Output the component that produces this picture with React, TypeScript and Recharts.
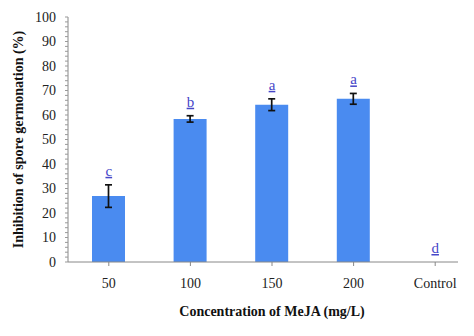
import React from "react";
import { XAxis, YAxis, Bar, ErrorBar, Line, LabelList, Label, ComposedChart } from "recharts";

const categories = ["50", "100", "150", "200", "Control"];
const inhibition = [26.9, 58.4, 64.2, 66.6, 0];
const errors = [4.6, 1.3, 2.4, 2.2, 0];
const letters = ["c", "b", "a", "a", "d"];
const yTicks = [0, 2, 4, 6, 8, 10, 12, 14, 16, 18, 20, 22, 24, 26, 28, 30, 32, 34, 36, 38, 40, 42, 44, 46, 48, 50, 52, 54, 56, 58, 60, 62, 64, 66, 68, 70, 72, 74, 76, 78, 80, 82, 84, 86, 88, 90, 92, 94, 96, 98, 100];

const data = categories.map((c, i) => ({
  name: c,
  value: inhibition[i],
  err: errors[i],
  top: inhibition[i] + errors[i],
  letter: letters[i],
}));

const serif = "'Liberation Serif', 'Times New Roman', serif";

const LetterLabel = (props: any) => {
  const { x, y, index } = props;
  return (
    <text
      x={x}
      y={y - 9}
      textAnchor="middle"
      fontFamily={serif}
      fontSize={15}
      fill="#4646c8"
      style={{ textDecoration: "underline" }}
    >
      {letters[index]}
    </text>
  );
};

const YTitle = (props: any) => {
  const vb = props.viewBox || {};
  const cx = vb.x + 10;
  const cy = vb.y + vb.height / 2;
  return (
    <text
      x={cx}
      y={cy}
      transform={`rotate(-90, ${cx}, ${cy})`}
      textAnchor="middle"
      dominantBaseline="central"
      fontFamily={serif}
      fontWeight="bold"
      fontSize={14}
      fill="#111"
    >
      Inhibition of spore germonation (%)
    </text>
  );
};

export default function App() {
  return (
    <div style={{ width: 450, height: 328, overflow: "hidden", position: "relative" }}>
      <ComposedChart
        width={468}
        height={328}
        data={data}
        margin={{ top: 9, right: 0, bottom: 0, left: 0 }}
      >
        <XAxis
          dataKey="name"
          axisLine={{ stroke: "#888" }}
          tickLine={{ stroke: "#888" }}
          tickSize={4}
          tickMargin={12}
          height={74}
          tick={{ fontFamily: serif, fontSize: 14, fill: "#222" }}
        >
          <Label
            value="Concentration of MeJA (mg/L)"
            position="insideBottom"
            offset={20}
            style={{ fontFamily: serif, fontWeight: "bold", fontSize: 14, fill: "#111" }}
          />
        </XAxis>
        <YAxis
          domain={[0, 100]}
          ticks={yTicks}
          interval={0}
          width={60}
          axisLine={{ stroke: "#888" }}
          tickLine={{ stroke: "#999" }}
          tickSize={3}
          tickMargin={9}
          tickFormatter={(v: number) => (v % 10 === 0 ? String(v) : "")}
          tick={{ fontFamily: serif, fontSize: 14, fill: "#222" }}
        >
          <Label content={<YTitle />} />
        </YAxis>
        <Bar dataKey="value" fill="#4a8bf0" barSize={33} isAnimationActive={false}>
          <ErrorBar dataKey="err" width={3.5} stroke="#111" strokeWidth={1.7} direction="y" />
        </Bar>
        <Line
          dataKey="top"
          stroke="none"
          dot={false}
          activeDot={false}
          isAnimationActive={false}
        >
          <LabelList dataKey="letter" content={<LetterLabel />} />
        </Line>
      </ComposedChart>
    </div>
  );
}
